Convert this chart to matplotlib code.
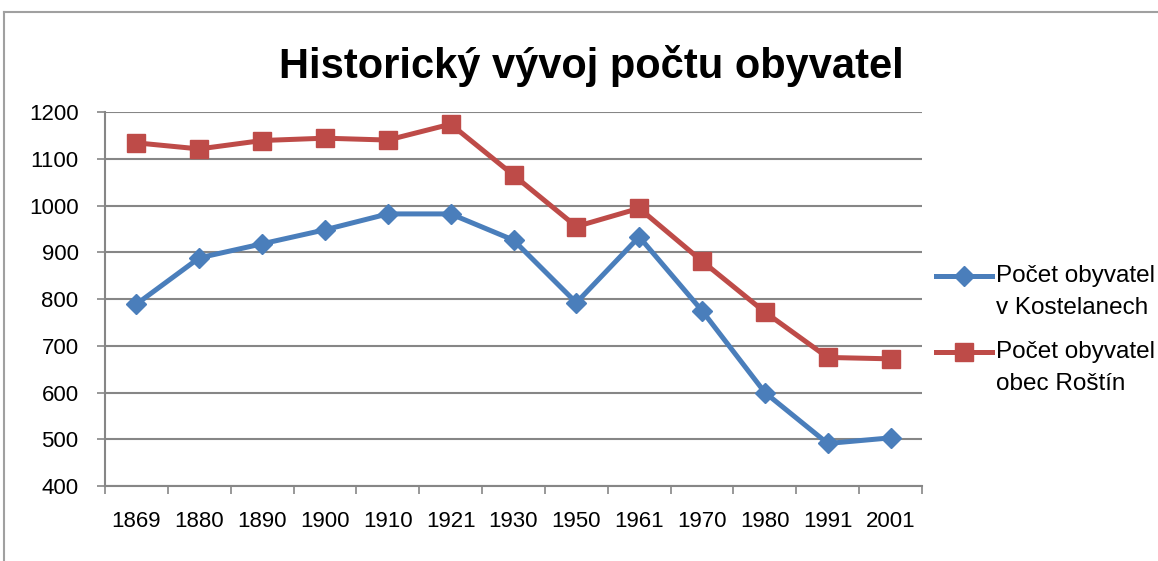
import numpy as np
import matplotlib.pyplot as plt
from matplotlib.lines import Line2D

plt.rcParams['font.family'] = ['Liberation Sans', 'DejaVu Sans']

roky = ['1869', '1880', '1890', '1900', '1910', '1921', '1930',
        '1950', '1961', '1970', '1980', '1991', '2001']
kostelany = [789, 888, 918, 948, 982, 982, 926, 792, 933, 775, 600, 491, 503]
rostin = [1134, 1121, 1139, 1144, 1140, 1174, 1065, 955, 994, 881, 772, 675, 672]
popisky = ['Počet obyvatel\nv Kostelanech', 'Počet obyvatel\nobec Roštín']

modra = '#4A7EBB'
cervena = '#BE4B48'
seda = '#868686'

fig = plt.figure(figsize=(11.58, 5.61), dpi=100)
ax = fig.add_axes([105 / 1158, 1 - 486 / 561, 817 / 1158, 374 / 561])

x = np.arange(len(roky))
ax.plot(x, kostelany, color=modra, lw=3.6, marker='D', ms=10,
        mec=modra, mfc=modra, label=popisky[0], zorder=3)
ax.plot(x, rostin, color=cervena, lw=3.6, marker='s', ms=13,
        mec=cervena, mfc=cervena, label=popisky[1], zorder=3)

ax.set_xlim(-0.5, len(roky) - 0.5)
ax.set_ylim(400, 1200)
ax.set_yticks(range(400, 1201, 100))
ax.yaxis.grid(True, color=seda, lw=1.5)
ax.set_axisbelow(True)

# kategorie: carky na hranicich, popisky uprostred
ax.set_xticks(np.arange(-0.5, len(roky)), labels=[])
ax.set_xticks(x, labels=roky, minor=True)
ax.tick_params(axis='x', which='major', length=6, width=1.2, color=seda, direction='out')
ax.tick_params(axis='x', which='minor', length=0, pad=18, labelsize=16)
ax.tick_params(axis='y', length=6, width=1.2, color=seda, pad=13, labelsize=16)

for s in ['top', 'right']:
    ax.spines[s].set_visible(False)
for s in ['left', 'bottom']:
    ax.spines[s].set_color(seda)
    ax.spines[s].set_linewidth(1.5)

fig.text(591 / 1158, 1 - 66 / 561, 'Historický vývoj počtu obyvatel',
         ha='center', va='center', fontsize=30, fontweight='bold')

leg = fig.legend(loc='upper left', bbox_to_anchor=(936 / 1158, 1 - 265 / 561),
                 frameon=False, fontsize=17.5, handlelength=2.3, handletextpad=0.15,
                 handleheight=1.3, labelspacing=0.9, borderpad=0, borderaxespad=0)
for t in leg.get_texts():
    t.set_linespacing(1.6)
# znacka legendy u prvniho radku textu
for sloupec in leg._legend_handle_box.get_children():
    for radek in sloupec.get_children():
        radek.align = 'top'

# ramecek grafu
fig.add_artist(Line2D([4 / 1158, 4 / 1158], [0, 1 - 12 / 561], color='#a0a0a0', lw=1.5))
fig.add_artist(Line2D([4 / 1158, 1], [1 - 12 / 561, 1 - 12 / 561], color='#a0a0a0', lw=1.5))

fig.savefig('out.png', dpi=100)
